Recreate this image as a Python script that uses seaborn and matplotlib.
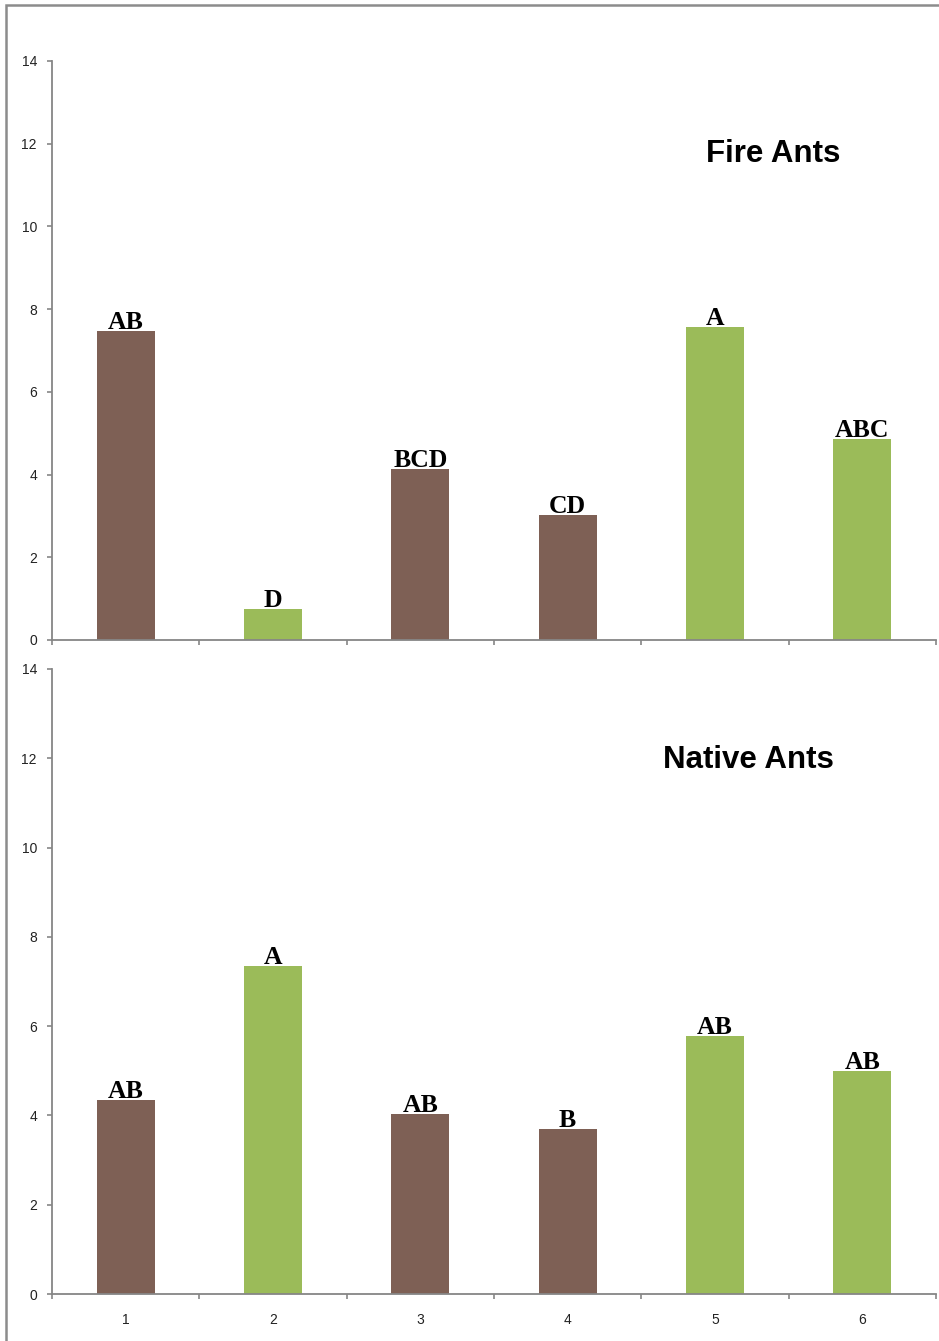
import matplotlib
matplotlib.use("Agg")
import matplotlib.pyplot as plt
from matplotlib.patches import Rectangle
import seaborn as sns
import pandas as pd

# Treatments and group membership
treatments = ["1", "2", "3", "4", "5", "6"]
bar_colors = ["#7E6055", "#9BBB59", "#7E6055", "#7E6055", "#9BBB59", "#9BBB59"]

# Mean values per treatment
fire_values = [7.47, 0.75, 4.13, 3.02, 7.57, 4.86]
native_values = [4.35, 7.35, 4.03, 3.70, 5.78, 5.00]

# Significance letters
fire_letters = ["AB", "D", "BCD", "CD", "A", "ABC"]
native_letters = ["AB", "A", "AB", "B", "AB", "AB"]

sns.set_style("white")
plt.rcParams["font.family"] = ["Liberation Sans", "DejaVu Sans"]

W, H = 939, 1341
fig = plt.figure(figsize=(W / 100, H / 100), dpi=100)

axis_grey = "#868686"


def panel(rect, values, letters, title, title_xy, show_labels):
    ax = fig.add_axes(rect)
    df = pd.DataFrame({"treatment": treatments, "value": values})
    sns.barplot(data=df, x="treatment", y="value", hue="treatment",
                palette=bar_colors, legend=False, width=0.395,
                saturation=1, ax=ax, edgecolor="none")
    ax.set_xlim(-0.5, 5.5)
    ax.set_ylim(0, 14)
    ax.set_yticks(range(0, 15, 2))
    ax.set_xlabel("")
    ax.set_ylabel("")
    for side in ("top", "right"):
        ax.spines[side].set_visible(False)
    for side in ("left", "bottom"):
        ax.spines[side].set_color(axis_grey)
        ax.spines[side].set_linewidth(1.3)
    ax.set_xticks([i - 0.5 for i in range(7)], minor=True)
    ax.tick_params(axis="x", which="major", bottom=True, length=0, pad=14,
                   labelsize=10, labelcolor="#222222")
    ax.tick_params(axis="x", which="minor", bottom=True, length=3.6,
                   width=1.2, color=axis_grey, direction="out")
    ax.tick_params(axis="y", left=True, length=3.6, width=1.2,
                   color=axis_grey, direction="out", labelsize=10,
                   labelcolor="#222222", pad=7.2)
    if not show_labels:
        ax.set_xticklabels([])
    for i, (v, lab) in enumerate(zip(values, letters)):
        ax.annotate(lab, (i, v), xytext=(0, 1.5), textcoords="offset points",
                    ha="center", va="baseline", fontsize=18.5,
                    fontweight="bold", family="Liberation Serif",
                    color="black")
    ax.text(title_xy[0], title_xy[1], title, ha="center", va="center",
            fontsize=22.5, fontweight="bold", color="black")
    ax.set_facecolor("white")
    return ax


def frac_x(px):
    return px / W


def frac_y(py):
    return 1 - py / H


left = frac_x(52)
width = frac_x(936) - left

top_rect = [left, frac_y(640), width, frac_y(61) - frac_y(640)]
bot_rect = [left, frac_y(1294), width, frac_y(669) - frac_y(1294)]

panel(top_rect, fire_values, fire_letters, "Fire Ants", (4.395, 11.75), False)
panel(bot_rect, native_values, native_letters, "Native Ants", (4.225, 11.96), True)

# Outer chart frame
fig.add_artist(Rectangle((frac_x(6), -0.1), 1.2, frac_y(5) + 0.1,
                         transform=fig.transFigure, fill=False,
                         edgecolor="#8c8c8c", linewidth=1.8, zorder=0))

fig.savefig("out.png", dpi=100, facecolor="white")
